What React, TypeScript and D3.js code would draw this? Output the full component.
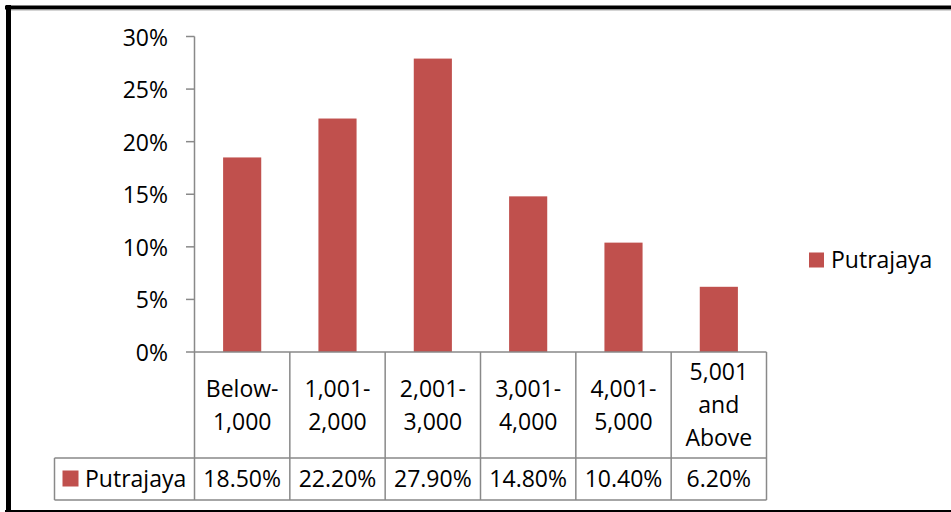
import React from "react";
import * as d3 from "d3";

const categories: string[][] = [
  ["Below-", "1,000"],
  ["1,001-", "2,000"],
  ["2,001-", "3,000"],
  ["3,001-", "4,000"],
  ["4,001-", "5,000"],
  ["5,001", "and", "Above"],
];
const seriesName = "Putrajaya";
const values = [18.5, 22.2, 27.9, 14.8, 10.4, 6.2];
const valueLabels = ["18.50%", "22.20%", "27.90%", "14.80%", "10.40%", "6.20%"];
const yTicks = [0, 5, 10, 15, 20, 25, 30];

const W = 951;
const H = 512;
const FONT = "'Open Sans', 'Noto Sans', sans-serif";
const FS = 23;
const BAR = "#C0504D";
const GRID = "#898989";

export default function App() {
  const keys = categories.map((c) => c.join(" "));
  const x = d3.scaleBand<string>().domain(keys).range([194.5, 766.5]).paddingInner(0).paddingOuter(0);
  const y = d3.scaleLinear().domain([0, 30]).range([352, 36.5]);
  const bw = x.bandwidth();
  const barW = bw * 0.4;
  const tableLeft = 54.5;
  const rowTop = y(0);
  const rowMid = 458;
  const rowBot = 500;
  const right = x.range()[1];

  return (
    <svg
      width={W}
      height={H}
      style={{ position: "absolute", left: 0, top: 0, background: "#fff" }}
      fontFamily={FONT}
      fontSize={FS}
    >
      <rect x={0} y={0} width={W} height={H} fill="#fff" />
      {/* outer frame */}
      <line x1={5} x2={W} y1={7.5} y2={7.5} stroke="#000" strokeWidth={4} />
      <line x1={8.5} x2={8.5} y1={5} y2={H} stroke="#000" strokeWidth={5} />
      <line x1={5} x2={W} y1={511} y2={511} stroke="#000" strokeWidth={2} />
      <line x1={11} x2={W} y1={10} y2={10} stroke="#aaa" strokeWidth={1} />

      {/* bars */}
      {values.map((v, i) => (
        <rect
          key={i}
          x={(x(keys[i]) as number) + (bw - barW) / 2}
          y={y(v)}
          width={barW}
          height={y(0) - y(v)}
          fill={BAR}
        />
      ))}

      {/* y axis */}
      <line x1={x.range()[0]} x2={x.range()[0]} y1={y(30)} y2={rowBot} stroke={GRID} strokeWidth={1.5} />
      {yTicks.map((t) => (
        <g key={t}>
          <line x1={186} x2={x.range()[0]} y1={y(t)} y2={y(t)} stroke={GRID} strokeWidth={1.5} />
          <text x={168} y={y(t)} textAnchor="end" dominantBaseline="central" fill="#000">
            {t}%
          </text>
        </g>
      ))}

      {/* table lines */}
      <line x1={x.range()[0]} x2={right} y1={rowTop} y2={rowTop} stroke={GRID} strokeWidth={1.5} />
      <line x1={tableLeft} x2={right} y1={rowMid} y2={rowMid} stroke={GRID} strokeWidth={1.5} />
      <line x1={tableLeft} x2={right} y1={rowBot} y2={rowBot} stroke={GRID} strokeWidth={1.5} />
      <line x1={tableLeft} x2={tableLeft} y1={rowMid} y2={rowBot} stroke={GRID} strokeWidth={1.5} />
      {keys.map((k) => (
        <line
          key={k}
          x1={(x(k) as number) + bw}
          x2={(x(k) as number) + bw}
          y1={rowTop}
          y2={rowBot}
          stroke={GRID}
          strokeWidth={1.5}
        />
      ))}

      {/* category labels */}
      {categories.map((lines, i) => {
        const cx = (x(keys[i]) as number) + bw / 2;
        const lh = 33;
        const base = lines.length === 3 ? 380 : 397;
        return (
          <text key={i} x={cx} textAnchor="middle" fill="#000">
            {lines.map((l, j) => (
              <tspan key={j} x={cx} y={base + j * lh}>
                {l}
              </tspan>
            ))}
          </text>
        );
      })}

      {/* values row */}
      <rect x={62.5} y={470.5} width={16} height={16} fill={BAR} />
      <text x={85} y={487} fill="#000">
        {seriesName}
      </text>
      {valueLabels.map((l, i) => (
        <text key={i} x={(x(keys[i]) as number) + bw / 2} y={487} textAnchor="middle" fill="#000">
          {l}
        </text>
      ))}

      {/* legend */}
      <rect x={809} y={252.5} width={15} height={15} fill={BAR} />
      <text x={831} y={268} fill="#000">
        {seriesName}
      </text>
    </svg>
  );
}
